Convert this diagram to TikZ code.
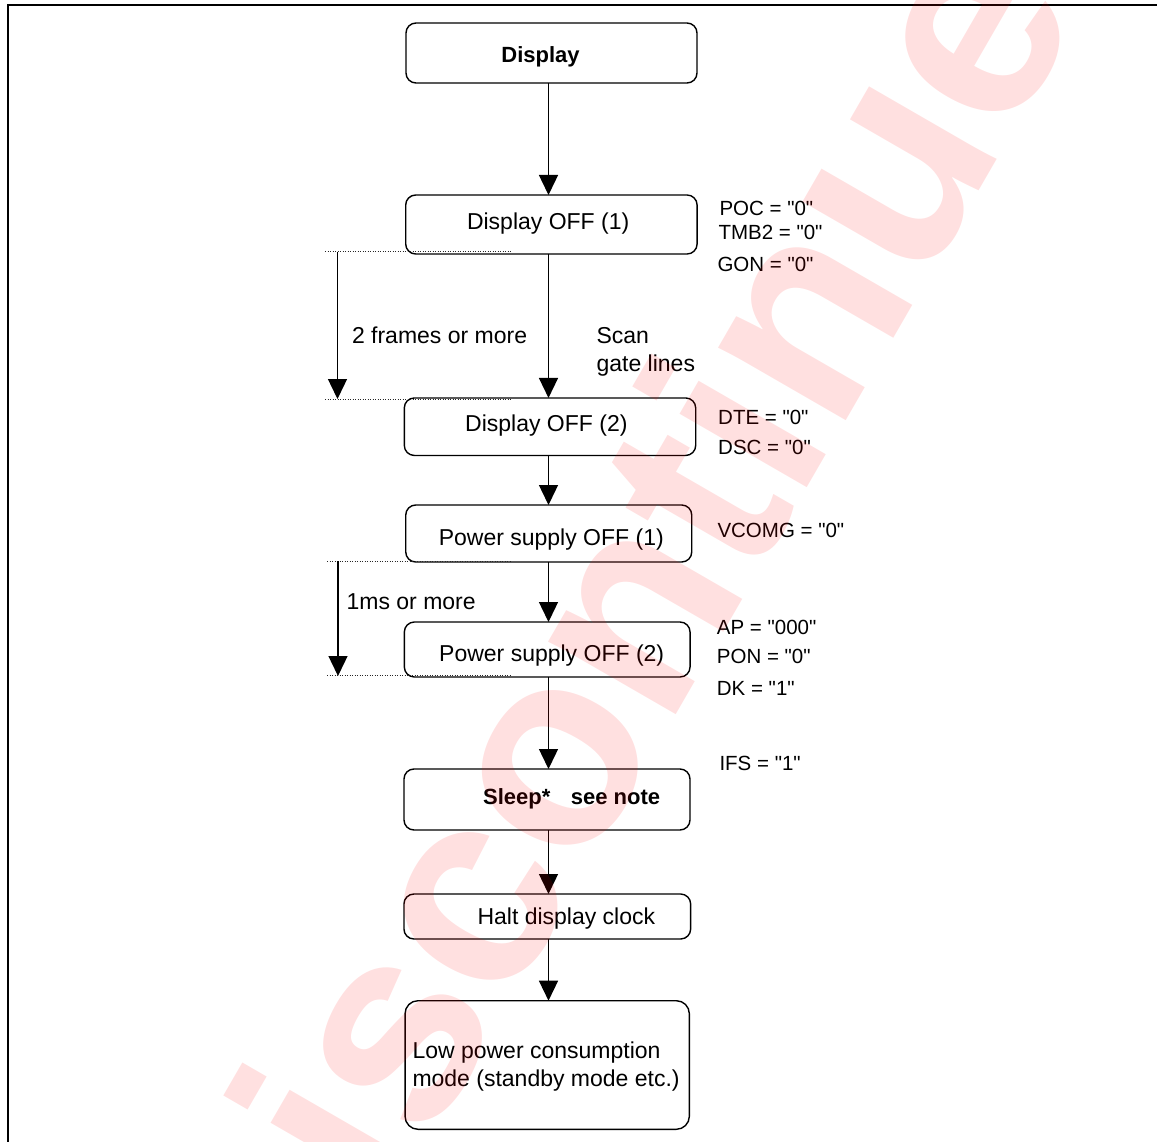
\documentclass[tikz,border=0pt]{standalone}
\usepackage{fontspec}
\setmainfont{Liberation Sans}[Ligatures=TeXOff]
\usetikzlibrary{arrows.meta}
\begin{document}
\begin{tikzpicture}[x=1pt,y=-1pt,
  box/.style={draw, line width=1.4pt, rounded corners=10pt, inner sep=0pt, outer sep=0pt},
  flow/.style={line width=1.4pt, -{Triangle[length=20pt,width=19pt]}},
  txt/.style={anchor=base west, inner sep=0pt, font=\fontsize{23}{28}\selectfont},
  reg/.style={anchor=base west, inner sep=0pt, font=\fontsize{20.5}{24}\selectfont},
  hd/.style={anchor=base west, inner sep=0pt, font=\fontsize{22}{26}\selectfont\bfseries},
  dotline/.style={line width=1pt, dash pattern=on 1pt off 1.5pt, black!85},
  frame/.style={line width=2pt}]
\useasboundingbox (0,0) rectangle (1157,1142);
\fill[white] (0,0) rectangle (1157,1142);

% page frame
\draw[frame] (8,1142) -- (8,5.5) -- (1157,5.5);

% process boxes
\node[box, minimum width=291pt, minimum height=60pt] (b0) at (551.5,53) {};
\node[box, minimum width=291.4pt, minimum height=59pt] (b1) at (551.4,224.5) {};
\node[box, minimum width=291.4pt, minimum height=57.5pt] (b2) at (550,426.7) {};
\node[box, minimum width=286pt, minimum height=57pt] (b3) at (548.75,533.5) {};
\node[box, minimum width=285.7pt, minimum height=55pt] (b4) at (547.2,649.5) {};
\node[box, minimum width=286pt, minimum height=61pt] (b5) at (547,799.5) {};
\node[box, minimum width=286.7pt, minimum height=45pt] (b6) at (547.3,916.5) {};
\node[box, rounded corners=13pt, minimum width=284.3pt, minimum height=128.6pt] (b7) at (547.2,1065) {};

% box texts
\node[hd, anchor=base] (t0) at (540.5,63) {Display};
\node[txt] (t1) at (466.8,230) {Display OFF (1)};
\node[txt] (t2) at (465,431) {Display OFF (2)};
\node[txt] (t3) at (438.6,545) {Power supply OFF (1)};
\node[txt] (t4) at (439,661) {Power supply OFF (2)};
\node[hd] (t5a) at (483,804.6) {Sleep*};
\node[hd] (t5b) at (570.7,804.6) {see note};
\node[txt] (t6) at (477.3,924.7) {Halt display clock};
\node[txt] (t7a) at (412.3,1058) {Low power consumption};
\node[txt] (t7b) at (412.3,1086) {mode (standby mode etc.)};

% main flow
\coordinate (spine) at (548.5,0);
\draw[flow] (b0.south -| spine) -- (b1.north -| spine);
\draw[flow] (b1.south -| spine) -- (b2.north -| spine);
\draw[flow] (b2.south -| spine) -- (b3.north -| spine);
\draw[flow] (b3.south -| spine) -- (b4.north -| spine);
\draw[flow] (b4.south -| spine) -- (b5.north -| spine);
\draw[flow] (b5.south -| spine) -- (b6.north -| spine);
\draw[flow] (b6.south -| spine) -- (b7.north -| spine);

% timing intervals
\draw[dotline] (325,252) -- (511,252);
\draw[dotline] (325,399.5) -- (511,399.5);
\draw[dotline] (327,561) -- (511,561);
\draw[dotline] (327,675) -- (511,675);
\coordinate (fa) at (337.5,252);
\coordinate (fb) at (337.5,399);
\coordinate (ma) at (338,561);
\coordinate (mb) at (338,676);
\draw[flow] (fa) -- (fb);
\draw[flow] (ma) -- (mb);

\node[txt] (n1) at (351.8,343) {2 frames or more};
\node[txt] (n2a) at (596.4,343) {Scan};
\node[txt] (n2b) at (596.4,371) {gate lines};
\node[txt] (n3) at (346.4,609.7) {1ms or more};

% register settings
\node[reg] (r1) at (719.3,215.6) {POC = "0"};
\node[reg] (r2) at (718.3,240) {TMB2 = "0"};
\node[reg] (r3) at (717.3,271.3) {GON = "0"};
\node[reg] (r4) at (718,424) {DTE = "0"};
\node[reg] (r5) at (718,454) {DSC = "0"};
\node[reg] (r6) at (717.3,537.3) {VCOMG = "0"};
\node[reg] (r7) at (716.7,634.6) {AP = "000"};
\node[reg] (r8) at (716.7,663.3) {PON = "0"};
\node[reg] (r9) at (716.7,695.6) {DK = "1"};
\node[reg] (r10) at (719.3,770.6) {IFS = "1"};

% watermark
\node[anchor=base west, inner sep=0pt, rotate=60, text=red, text opacity=0.12,
      font=\fontsize{278}{300}\selectfont\bfseries] (wm) at (288,1387.5) {Discontinued};
\end{tikzpicture}
\end{document}
